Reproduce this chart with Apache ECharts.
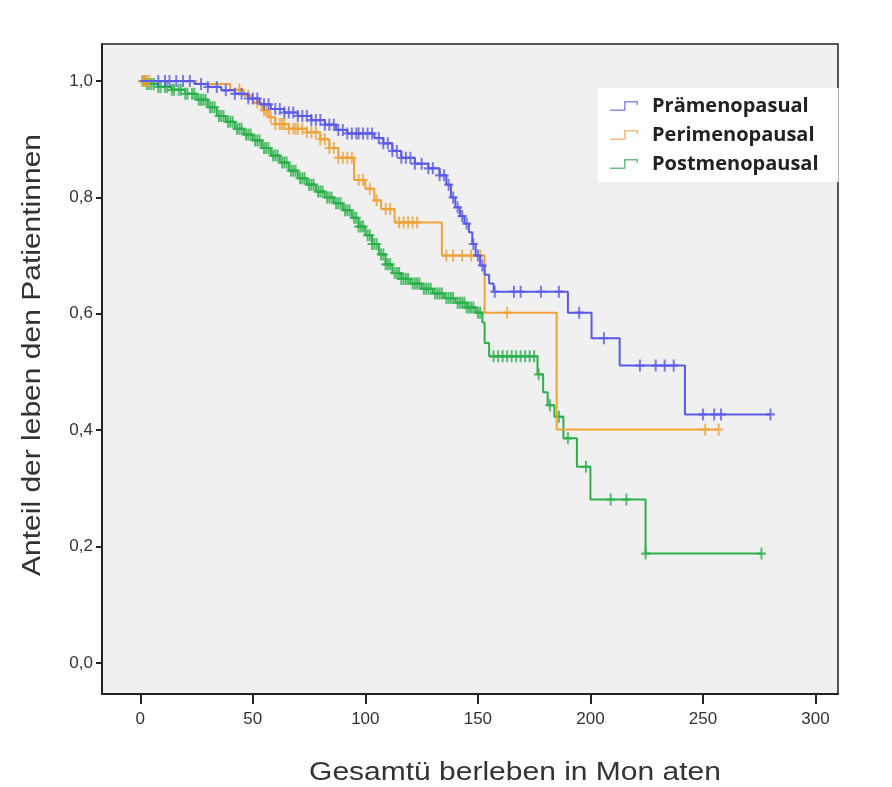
<!DOCTYPE html>
<html><head><meta charset="utf-8">
<script src="https://cdn.jsdelivr.net/npm/echarts@6/dist/echarts.min.js"></script>
<style>html,body{margin:0;padding:0;background:#fff}#c{width:892px;height:787px}</style>
</head><body><div id="c"></div>
<script>
// ---- Data ----
const xTicks = [0, 50, 100, 150, 200, 250, 300];
const yTicks = [0, 0.2, 0.4, 0.6, 0.8, 1.0];
const seriesNames = ['Prämenopasual', 'Perimenopausal', 'Postmenopausal'];

// Kaplan-Meier steps: [month, survival after event]
const praeSteps = [[0,1],[24,0.995],[30,0.99],[36,0.984],[42,0.978],[48,0.97],[53,0.96],[58,0.952],[64,0.946],[70,0.94],[76,0.933],[82,0.925],[87,0.916],[92,0.91],[104,0.902],[108,0.893],[112,0.88],[116,0.868],[122,0.858],[128,0.85],[133,0.838],[136,0.822],[138,0.8],[140,0.783],[142,0.768],[144,0.755],[146,0.74],[147.5,0.72],[149,0.7],[151,0.683],[153,0.667],[155,0.652],[157,0.638],[190,0.602],[200.5,0.558],[213,0.511],[242,0.427],[280,0.427]];
const praeCensor = [8,11,13,16,19,22,27,30,34,38,42,45,48,50,52,55,57,60,62,64,66,68,70,72,74,76,78,80,82,84,86,88,90,92,94,96,97,99,101,103,106,108,110,112,114,116,118,120,122,125,128,130,133,135,137,139,141,143,145,148,150,152,157.5,166,169,178,186,195,206,222,229,233,237,250,255,258,280];

const periSteps = [[0,1],[25,0.995],[40,0.985],[46,0.975],[50,0.963],[54,0.95],[57,0.938],[60,0.926],[66,0.918],[74,0.912],[80,0.9],[84,0.885],[88,0.868],[95,0.83],[100,0.815],[104,0.795],[107,0.78],[113,0.757],[134,0.70],[153,0.602],[185,0.401],[257,0.401]];
const periCensor = [1,2,3,4,44,48,52,55,56,58,60,62,63,64,66,68,69,70,72,74,76,78,80,82,84,86,88,90,92,94,97,99,102,105,109,111,115,117,119,121,123,136,139,143,147,151,163,251,257];

const postSteps = [[0,1],[3,0.995],[8,0.99],[14,0.985],[20,0.978],[25,0.968],[30,0.955],[34,0.94],[38,0.93],[42,0.918],[46,0.908],[50,0.898],[54,0.885],[58,0.872],[62,0.86],[66,0.846],[70,0.833],[74,0.822],[78,0.81],[82,0.8],[86,0.79],[90,0.778],[94,0.765],[97,0.75],[100,0.735],[103,0.72],[106,0.702],[109,0.685],[112,0.67],[116,0.66],[120,0.652],[125,0.643],[130,0.635],[135,0.627],[140,0.619],[145,0.611],[149,0.602],[152,0.585],[153,0.55],[155,0.527],[176.5,0.496],[179,0.465],[181,0.443],[184,0.423],[188,0.386],[194,0.337],[200,0.281],[224.5,0.188],[276,0.188]];
const postCensor = [1,2,3,4,5,6,8,9,11,12,14,15,17,18,20,21,23,24,26,27,28,29,31,32,33,35,36,37,39,40,41,43,44,45,47,48,49,51,52,53,55,56,57,59,60,61,63,64,65,67,68,69,71,72,73,75,76,77,79,80,81,83,84,85,87,88,89,91,92,93,95,96,97,98,99,101,102,103,104,105,107,108,109,110,111,113,114,115,116,117,118,119,121,122,123,124,126,127,128,129,131,132,133,134,136,137,138,139,141,142,143,144,145,146,147,148,150,151,157,159,161,163,165,167,169,171,173,175,177,182,186,190,198,209,216,224.5,276];

const colors = ['#5A5AE8', '#EFA237', '#2CB04C'];
const legendColors = ['#8C8CEC', '#F0BF80', '#6CBF7E'];

// ---- helpers ----
function survAt(steps, t) {
  let v = steps[0][1];
  for (const s of steps) { if (s[0] <= t) v = s[1]; else break; }
  return v;
}
const plusSymbol = 'path://M0,4.9h10v2.2h-10z M3.9,0h2.2v12h-2.2z';
const stepIcon = 'path://M0,8.5h14v-8.5h14v4h-1.5v-2.5h-11v8.5h-15.5z';

const groups = [[praeSteps, praeCensor], [periSteps, periCensor], [postSteps, postCensor]];
const series = [];
groups.forEach((g, i) => {
  series.push({
    name: seriesNames[i], type: 'line', step: 'end', data: g[0],
    showSymbol: false, symbol: 'none', color: colors[i],
    lineStyle: { width: 2, color: colors[i] }, z: 5 - i, animation: false
  });
});
groups.forEach((g, i) => {
  series.push({
    name: seriesNames[i], type: 'scatter',
    data: g[1].map(t => [t, survAt(g[0], t)]),
    symbol: plusSymbol, symbolSize: [9, 12], color: colors[i],
    itemStyle: { color: colors[i] }, z: 5 - i, animation: false
  });
});

const chart = echarts.init(document.getElementById('c'), null, { renderer: 'canvas' });
chart.setOption({
  animation: false,
  backgroundColor: '#ffffff',
  grid: { left: 102, right: 54, top: 44, bottom: 93, show: true, backgroundColor: '#F0F0F0', borderColor: '#222', borderWidth: 1.5 },
  xAxis: {
    type: 'value', min: -17, max: 310,
    axisLine: { show: true, onZero: false, lineStyle: { color: '#222', width: 2 } },
    axisTick: { show: true, length: 10, customValues: xTicks, lineStyle: { color: '#222', width: 2 } },
    axisLabel: { customValues: xTicks, color: '#333', fontSize: 17, fontFamily: 'Liberation Sans', margin: 17 },
    splitLine: { show: false }
  },
  yAxis: {
    type: 'value', min: -0.0534, max: 1.0637,
    axisLine: { show: true, onZero: false, lineStyle: { color: '#222', width: 2 } },
    axisTick: { show: true, length: 6, customValues: yTicks, lineStyle: { color: '#222', width: 2 } },
    axisLabel: { customValues: yTicks, color: '#333', fontSize: 17, fontFamily: 'Liberation Sans', margin: 9,
      formatter: v => v.toFixed(1).replace('.', ',') },
    splitLine: { show: false }
  },
  legend: {
    orient: 'vertical', left: 598, top: 88,
    backgroundColor: '#ffffff', padding: [8, 20, 8, 12], itemGap: 9,
    itemWidth: 30, itemHeight: 10,
    data: seriesNames.map((n, i) => ({ name: n, icon: stepIcon, itemStyle: { color: legendColors[i] } })),
    textStyle: { fontSize: 20, fontWeight: 'bold', color: '#222', fontFamily: 'Open Sans', padding: [0, 0, 0, 8] },
    selectedMode: false
  },
  graphic: [
    { type: 'text', x: 515, y: 773, scaleX: 1.2, style: { text: 'Gesamtü berleben in Mon aten', fontSize: 25, fontFamily: 'Liberation Sans', fill: '#333', align: 'center', verticalAlign: 'middle' } },
    { type: 'text', x: 33, y: 355, rotation: Math.PI / 2, scaleX: 1.2, style: { text: 'Anteil der leben den Patientinnen', fontSize: 25, fontFamily: 'Liberation Sans', fill: '#333', align: 'center', verticalAlign: 'middle' } }
  ],
  series: series
});
</script>
</body></html>
